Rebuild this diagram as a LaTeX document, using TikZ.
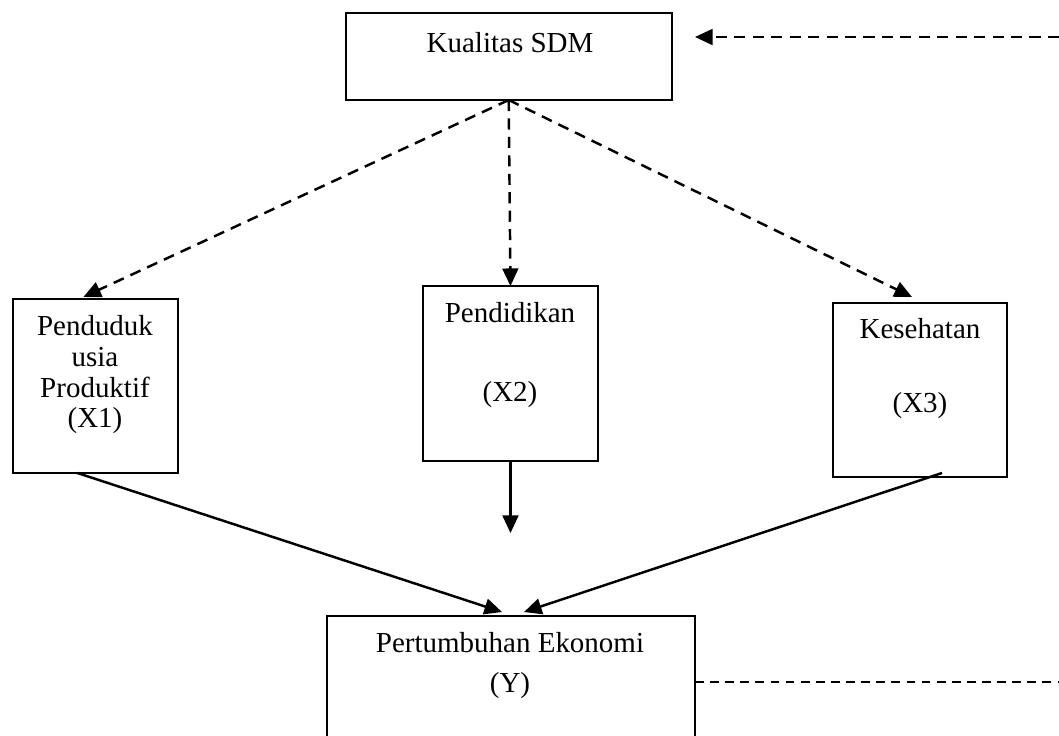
\documentclass[tikz,border=0pt]{standalone}
\usepackage{fontspec}
\setmainfont{Liberation Serif}
\usetikzlibrary{arrows.meta,calc}
\begin{document}
\begin{tikzpicture}[x=0.02cm,y=-0.02cm,
  box/.style={draw,line width=1.3pt,rectangle,inner sep=0pt,outer sep=0pt},
  lbl/.style={anchor=base,inner sep=0pt,font=\fontsize{16.5}{19}\selectfont},
  tip/.style={-{Triangle[length=10pt,width=9pt]}},
  dasharrow/.style={tip,line width=1.4pt,dash pattern=on 6.3pt off 4.2pt},
  solidarrow/.style={tip,line width=1.4pt},
  thindash/.style={line width=0.8pt,dash pattern=on 5pt off 3.6pt}]
\fill[white] (0,0) rectangle (1059,735);
\useasboundingbox (0,0) rectangle (1059,735);
\clip (0,0) rectangle (1059,735);

% boxes
\node[box,minimum width=6.52cm,minimum height=1.734cm] (k) at (508.7,56.65) {};
\node[box,minimum width=3.306cm,minimum height=3.48cm] (x1) at (95.35,386) {};
\node[box,minimum width=3.5cm,minimum height=3.5cm] (x2) at (510.5,373.5) {};
\node[box,minimum width=3.48cm,minimum height=3.48cm] (x3) at (920,390) {};
\node[box,minimum width=7.36cm,minimum height=2.64cm] (y) at (511,682) {};

% labels
\node[lbl] (tk) at (510,52) {Kualitas SDM};
\node[lbl] (t1a) at (95,335) {Penduduk};
\node[lbl] (t1b) at (95,366) {usia};
\node[lbl] (t1c) at (95,397) {Produktif};
\node[lbl] (t1d) at (95,427) {(X1)};
\node[lbl] (t2a) at (510,322) {Pendidikan};
\node[lbl] (t2b) at (510,401) {(X2)};
\node[lbl] (t3a) at (920,338) {Kesehatan};
\node[lbl] (t3b) at (920,412) {(X3)};
\node[lbl] (tya) at (510,652) {Pertumbuhan Ekonomi};
\node[lbl] (tyb) at (510,692) {(Y)};

% free ends
\coordinate (r1) at (1059,37);
\coordinate (ktip) at (695,37);
\coordinate (x2end) at ($(x2.south)+(0,72)$);
\coordinate (r2) at (1059,682);

% dashed arrows
\draw[dasharrow] (r1) -- (ktip);
\draw[dasharrow] (k.south) -- ($(x1.north)+(-12,-2)$);
\draw[dasharrow] (k.south) -- (x2.north);
\draw[dasharrow] (k.south) -- ($(x3.north)+(-8,-6)$);

% solid arrows
\draw[solidarrow] ($(x1.south)+(-18,0)$) -- ($(y.north)+(-9,-4)$);
\draw[solidarrow] ($(x3.south)+(22,-4)$) -- ($(y.north)+(13,-4)$);
\draw[solidarrow] (x2.south) -- (x2end);

% thin dashed line
\draw[thindash] (y.east) -- (r2);
\end{tikzpicture}
\end{document}
